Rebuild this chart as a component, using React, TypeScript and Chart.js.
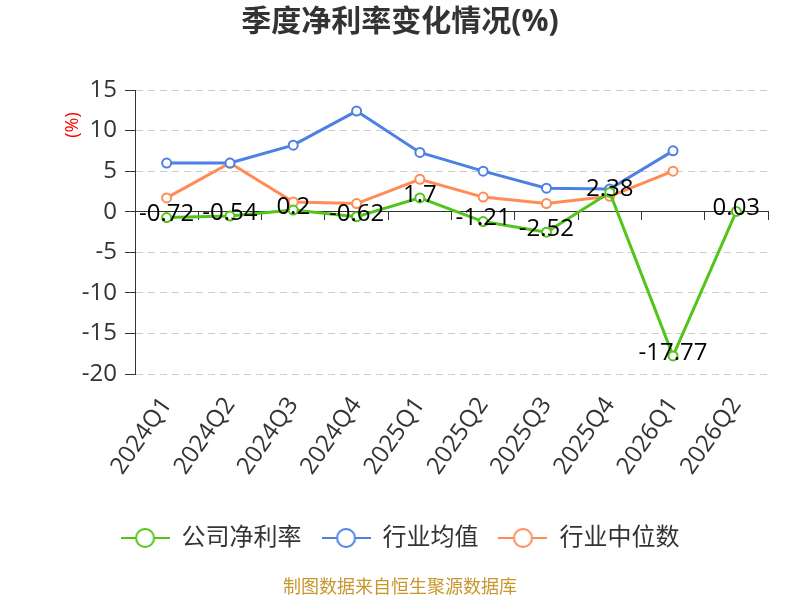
import React, { useEffect, useRef } from 'react';
import { Chart, registerables } from 'chart.js';

Chart.register(...registerables);

const categories = ['2024Q1', '2024Q2', '2024Q3', '2024Q4', '2025Q1', '2025Q2', '2025Q3', '2025Q4', '2026Q1', '2026Q2'];
const companyNetMargin = [-0.72, -0.54, 0.2, -0.62, 1.7, -1.21, -2.52, 2.38, -17.77, 0.03];
const industryAverage = [6.0, 6.0, 8.2, 12.4, 7.3, 5.0, 2.9, 2.8, 7.5, null];
const industryMedian = [1.7, 6.0, 1.2, 1.0, 4.0, 1.8, 1.0, 1.9, 5.0, null];
const seriesNames = ['公司净利率', '行业均值', '行业中位数'];
const seriesColors = ['#52c41a', '#4d80e4', '#ff8c55'];
const yMin = -20;
const yMax = 15;
const yStep = 5;
const titleText = '季度净利率变化情况(%)';
const yAxisTitle = '(%)';
const sourceText = '制图数据来自恒生聚源数据库';

const FONT = '"Open Sans", "Noto Sans CJK SC", sans-serif';

function legendIcon(color: string): HTMLCanvasElement {
  const c = document.createElement('canvas');
  c.width = 49;
  c.height = 22;
  const ctx = c.getContext('2d')!;
  ctx.strokeStyle = color;
  ctx.lineWidth = 2;
  ctx.beginPath();
  ctx.moveTo(0, 11);
  ctx.lineTo(49, 11);
  ctx.stroke();
  ctx.beginPath();
  ctx.arc(24.5, 11, 9, 0, Math.PI * 2);
  ctx.fillStyle = '#fff';
  ctx.fill();
  ctx.stroke();
  return c;
}

const extrasPlugin = {
  id: 'extras',
  afterDatasetsDraw(chart: any) {
    const ctx = chart.ctx;
    const meta = chart.getDatasetMeta(0);
    ctx.save();
    ctx.fillStyle = '#000';
    ctx.font = `24px ${FONT}`;
    ctx.textAlign = 'center';
    ctx.textBaseline = 'middle';
    meta.data.forEach((pt: any, i: number) => {
      const v = companyNetMargin[i];
      if (v === null || v === undefined) return;
      ctx.fillText(String(v), pt.x, pt.y - 3);
    });
    ctx.restore();
  },
  afterDraw(chart: any) {
    const ctx = chart.ctx;
    ctx.save();
    ctx.translate(73, 125);
    ctx.rotate(-Math.PI / 2);
    ctx.fillStyle = '#ff0000';
    ctx.font = `18px ${FONT}`;
    ctx.textAlign = 'center';
    ctx.textBaseline = 'middle';
    ctx.fillText(yAxisTitle, 0, 0);
    ctx.restore();
    ctx.save();
    ctx.fillStyle = '#c8962d';
    ctx.font = `18px ${FONT}`;
    ctx.textAlign = 'center';
    ctx.textBaseline = 'middle';
    ctx.fillText(sourceText, 400, 588);
    ctx.restore();
  },
};

export default function App() {
  const ref = useRef<HTMLCanvasElement>(null);
  useEffect(() => {
    if (!ref.current) return;
    const data = [companyNetMargin, industryAverage, industryMedian];
    const chart = new Chart(ref.current, {
      type: 'line',
      data: {
        labels: categories,
        datasets: data.map((d, i) => ({
          label: seriesNames[i],
          data: d,
          borderColor: seriesColors[i],
          backgroundColor: '#fff',
          borderWidth: 3,
          pointRadius: 4.5,
          pointBorderWidth: 2,
          pointBackgroundColor: '#fff',
          pointBorderColor: seriesColors[i],
          pointStyle: 'circle',
          tension: 0,
          spanGaps: false,
          order: i,
        })),
      },
      options: {
        animation: false,
        responsive: false,
        maintainAspectRatio: false,
        layout: { padding: { left: 0, right: 0, top: 0, bottom: 40 } },
        scales: {
          x: {
            type: 'category',
            offset: true,
            grid: { display: false, drawTicks: false },
            border: { display: false },
            ticks: {
              color: '#333',
              font: { size: 24, family: FONT },
              minRotation: 55,
              maxRotation: 55,
              padding: 18,
              autoSkip: false,
            },
            afterFit(scale: any) {
              scale.height = 132;
            },
          },
          x2: {
            type: 'category',
            labels: categories,
            position: { y: 0 } as any,
            offset: true,
            grid: {
              offset: true,
              drawOnChartArea: false,
              drawTicks: true,
              tickLength: 8,
              tickColor: '#333',
            },
            border: { display: true, color: '#333', width: 1 },
            ticks: { display: false },
          },
          y: {
            min: yMin,
            max: yMax,
            ticks: {
              stepSize: yStep,
              color: '#333',
              font: { size: 24, family: FONT },
              padding: 8,
            },
            grid: {
              color: '#cccccc',
              lineWidth: 1,
              drawTicks: true,
              tickLength: 10,
              tickColor: '#333',
              tickBorderDash: [],
            },
            border: { display: true, color: '#333', width: 1, dash: [7, 5] },
            afterFit(scale: any) {
              scale.width = 135;
            },
          },
          yRight: {
            position: 'right',
            min: yMin,
            max: yMax,
            grid: { display: false, drawTicks: false },
            border: { display: false },
            ticks: { display: false },
            afterFit(scale: any) {
              scale.width = 32;
            },
          },
        },
        plugins: {
          title: {
            display: true,
            text: titleText,
            color: '#333',
            font: { size: 30, weight: 'bold', family: FONT },
            padding: { top: 4, bottom: 50 },
          },
          legend: {
            position: 'bottom',
            labels: {
              usePointStyle: true,
              pointStyleWidth: 49,
              color: '#333',
              font: { size: 24, family: FONT },
              padding: 20,
              generateLabels(chart: any) {
                return chart.data.datasets.map((ds: any, i: number) => ({
                  text: ds.label,
                  pointStyle: legendIcon(seriesColors[i]),
                  fillStyle: '#fff',
                  strokeStyle: seriesColors[i],
                  lineWidth: 0,
                  hidden: false,
                  datasetIndex: i,
                  fontColor: '#333',
                }));
              },
            },
          },
          tooltip: { enabled: false },
        },
      },
      plugins: [extrasPlugin],
    });
    return () => chart.destroy();
  }, []);
  return (
    <div style={{ position: 'absolute', left: 0, top: 0, width: 800, height: 600 }}>
      <canvas ref={ref} width={800} height={600} style={{ width: 800, height: 600 }} />
    </div>
  );
}
